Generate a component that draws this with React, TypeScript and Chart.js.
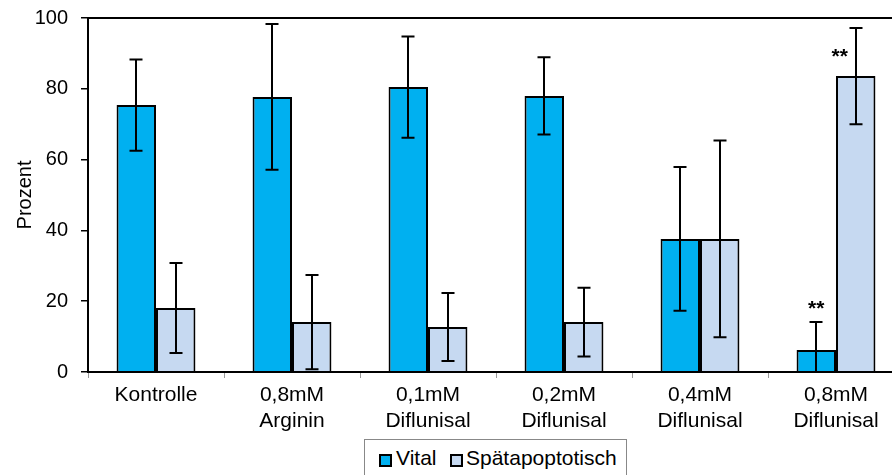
import React, { useEffect, useRef } from "react";
import { Chart, registerables } from "chart.js";
Chart.register(...registerables);

const categories = [
  ["Kontrolle"],
  ["0,8mM", "Arginin"],
  ["0,1mM", "Diflunisal"],
  ["0,2mM", "Diflunisal"],
  ["0,4mM", "Diflunisal"],
  ["0,8mM", "Diflunisal"],
];
const vital = [75.4, 77.7, 80.5, 78.0, 37.6, 6.2];
const vitalErr = [12.9, 20.6, 14.3, 10.9, 20.3, 7.9];
const late = [18.1, 14.1, 12.7, 14.1, 37.6, 83.6];
const lateErr = [12.7, 13.3, 9.6, 9.7, 27.8, 13.6];
const vitalSig = ["", "", "", "", "", "**"];
const lateSig = ["", "", "", "", "", "**"];
const yTicks = [0, 20, 40, 60, 80, 100];
const seriesNames = ["Vital", "Spätapoptotisch"];
const seriesColors = ["#00B0F0", "#C6D9F1"];

const FONT = "'Liberation Sans', Arial, sans-serif";

const overlay = {
  id: "overlay",
  afterDatasetsDraw(chart: any) {
    const { ctx, chartArea, scales } = chart;
    const y = scales.y;
    ctx.save();
    ctx.beginPath();
    ctx.rect(chartArea.left, chartArea.top - 2, chartArea.right - chartArea.left, chartArea.bottom - chartArea.top + 2);
    ctx.clip();
    ctx.strokeStyle = "#000";
    ctx.lineWidth = 2;
    chart.data.datasets.forEach((ds: any, di: number) => {
      const meta = chart.getDatasetMeta(di);
      meta.data.forEach((bar: any, i: number) => {
        const v = ds.data[i];
        const e = ds.errors[i];
        const x = Math.round(bar.x);
        const yHi = y.getPixelForValue(v + e);
        const yLo = y.getPixelForValue(v - e);
        ctx.beginPath();
        ctx.moveTo(x, yHi);
        ctx.lineTo(x, yLo);
        ctx.moveTo(x - 6.5, yHi);
        ctx.lineTo(x + 6.5, yHi);
        ctx.moveTo(x - 6.5, yLo);
        ctx.lineTo(x + 6.5, yLo);
        ctx.stroke();
      });
    });
    ctx.restore();

    // significance markers
    ctx.save();
    ctx.fillStyle = "#000";
    ctx.font = `bold 21px ${FONT}`;
    ctx.textAlign = "center";
    ctx.textBaseline = "alphabetic";
    const m0 = chart.getDatasetMeta(0);
    const m1 = chart.getDatasetMeta(1);
    vitalSig.forEach((s, i) => {
      if (!s) return;
      const bar = m0.data[i];
      const yTop = y.getPixelForValue(vital[i] + vitalErr[i]);
      ctx.fillText(s, bar.x, yTop - 7);
    });
    lateSig.forEach((s, i) => {
      if (!s) return;
      const bar = m1.data[i];
      const yTop = y.getPixelForValue(late[i]);
      ctx.fillText(s, bar.x - 16, yTop - 13);
    });
    ctx.restore();

    // frame
    ctx.save();
    ctx.strokeStyle = "#000";
    ctx.lineWidth = 2;
    ctx.strokeRect(chartArea.left, chartArea.top, chartArea.right - chartArea.left, chartArea.bottom - chartArea.top);
    ctx.restore();
  },
};

export default function App() {
  const ref = useRef<HTMLCanvasElement>(null);
  useEffect(() => {
    if (!ref.current) return;
    const chart = new Chart(ref.current, {
      type: "bar",
      data: {
        labels: categories,
        datasets: [
          {
            label: seriesNames[0],
            data: vital,
            errors: vitalErr,
            backgroundColor: seriesColors[0],
            borderColor: "#000",
            borderWidth: 2,
            categoryPercentage: 0.58,
            barPercentage: 1.0,
          } as any,
          {
            label: seriesNames[1],
            data: late,
            errors: lateErr,
            backgroundColor: seriesColors[1],
            borderColor: "#000",
            borderWidth: 2,
            categoryPercentage: 0.58,
            barPercentage: 1.0,
          } as any,
        ],
      },
      options: {
        responsive: false,
        animation: false,
        devicePixelRatio: 1,
        layout: { padding: { top: 18, right: 6, left: 0, bottom: 0 } },
        plugins: { legend: { display: false }, tooltip: { enabled: false } },
        scales: {
          x: {
            grid: { display: true, drawOnChartArea: false, offset: true, color: "#999", tickLength: 6, lineWidth: 1 },
            border: { display: false },
            ticks: { color: "#000", font: { family: FONT, size: 21, lineHeight: 1.2 }, padding: 5, maxRotation: 0, autoSkip: false },
            afterFit: (s: any) => { s.height = 103; s.paddingLeft = 0; s.paddingRight = 0; },
          },
          y: {
            min: 0,
            max: 100,
            afterBuildTicks: (s: any) => { s.ticks = yTicks.map((v) => ({ value: v })); },
            grid: { display: true, drawOnChartArea: false, color: "#000", tickLength: 7, lineWidth: 1.5 },
            border: { display: false },
            ticks: { color: "#000", font: { family: FONT, size: 20 }, padding: 13 },
            title: { display: true, text: "Prozent", color: "#000", font: { family: FONT, size: 20 }, padding: { top: 13, bottom: 0 } },
            afterFit: (s: any) => { s.width = 88; s.paddingTop = 0; s.paddingBottom = 0; },
          },
        },
      } as any,
      plugins: [overlay],
    });
    return () => chart.destroy();
  }, []);

  const sq = (c: string): React.CSSProperties => ({
    position: "absolute",
    width: 9,
    height: 9,
    border: "2px solid #000",
    background: c,
    top: 14,
  });
  const txt: React.CSSProperties = {
    position: "absolute",
    top: 6,
    font: `21px ${FONT}`,
    lineHeight: "24px",
    color: "#000",
    whiteSpace: "nowrap",
  };

  return (
    <div style={{ position: "fixed", left: 0, top: 0, width: 892, height: 475, overflow: "hidden", background: "#fff" }}>
      <canvas ref={ref} width={910} height={475} style={{ display: "block", width: 910, height: 475 }} />
      <div
        style={{
          position: "absolute",
          left: 364,
          top: 439,
          width: 261,
          height: 45,
          border: "1px solid #888",
          background: "#fff",
        }}
      >
        <div style={{ ...sq(seriesColors[0]), left: 14 }} />
        <div style={{ ...txt, left: 31 }}>{seriesNames[0]}</div>
        <div style={{ ...sq(seriesColors[1]), left: 85 }} />
        <div style={{ ...txt, left: 101 }}>{seriesNames[1]}</div>
      </div>
    </div>
  );
}
